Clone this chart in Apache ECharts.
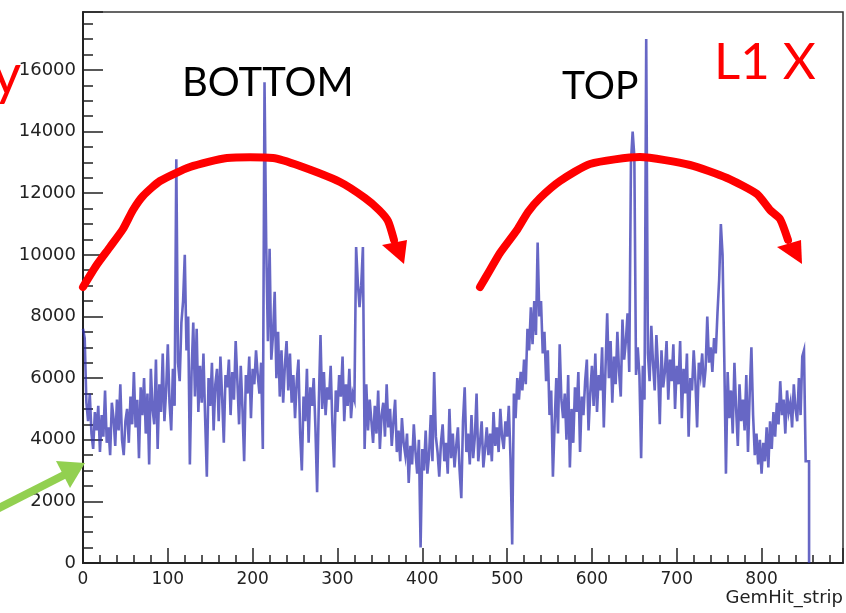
<!DOCTYPE html>
<html><head><meta charset="utf-8">
<script src="https://cdn.jsdelivr.net/npm/echarts@6/dist/echarts.min.js"></script>
<style>html,body{margin:0;padding:0;background:#fff}#c{width:846px;height:613px}</style>
</head><body><div id="c"></div>
<script>
// histogram bin width (strips per bin)
const binWidth = 2;
// counts per bin, strips 0..855
const stripCounts = [
  7600, 7300, 5200, 4600, 5500, 4200, 3700, 4900, 4300, 5100,
  3600, 4800, 4100, 5600, 3900, 4400, 3500, 5200, 4700, 3800,
  5300, 4300, 5800, 4000, 3500, 4600, 5000, 3900, 5400, 4500,
  6200, 4400, 5300, 3400, 5700, 4800, 6000, 4200, 5500, 3200,
  6300, 5000, 4500, 6600, 3700, 5800, 4900, 6800, 4600, 5600,
  7100, 5200, 4300, 6300, 5100, 13100, 6500, 5900, 7800, 8500,
  10000, 6900, 8000, 3200, 6200, 7800, 5400, 7600, 4900, 6400,
  5200, 6800, 4700, 2800, 6000, 5100, 6500, 4300, 5800, 6300,
  4600, 6700, 5400, 3900, 6100, 5700, 6600, 4800, 6200, 5300,
  7200, 5900, 4500, 6400, 5000, 3300, 6100, 5500, 6700, 4700,
  6300, 5800, 6900, 6100, 5500, 6500, 3700, 15600, 10300, 7200,
  10200, 6600, 7400, 8800, 6000, 7500, 5400, 6900, 5200, 6400,
  7200, 5600, 6800, 5200, 6100, 4700, 5900, 6600, 4200, 3000,
  5400, 4600, 6300, 3900, 5700, 5100, 6000, 4400, 2300, 5200,
  7400, 5000, 6200, 4800, 5700, 5300, 6400, 4500, 3100, 5600,
  4900, 6100, 5400, 6700, 4600, 5800, 5100, 6300, 4700, 5500,
  5300, 10250, 9100, 8300, 9000, 10250, 3700, 5800, 4300, 5300,
  4600, 3900, 5100, 4200, 5600, 3700, 4800, 5200, 4100, 5800,
  4400, 5000, 3800, 4600, 5300, 3600, 4300, 3300, 4700, 3900,
  3500, 4200, 2600, 3800, 3200, 4500, 3600, 2900, 4000, 500,
  3700, 3000, 4300, 2900, 3500, 4800, 3300, 6200, 4100, 3600,
  2800, 3900, 4500, 3300, 3900, 2900, 5000, 3400, 4200, 3100,
  3800, 4400, 3000, 2100, 4600, 5700, 3600, 4200, 3200, 4800,
  3400, 4100, 5500, 3300, 3900, 4600, 3100, 3700, 4400, 3500,
  4200, 3300, 4900, 3800, 4400, 3600, 5000, 4100, 3700, 4600,
  4100, 5100, 3400, 600, 5500, 4700, 6000, 5300, 6200, 5600,
  6600, 5800, 7600, 6900, 8300, 7100, 8500, 7400, 10400, 8000,
  8500, 6800, 7500, 5900, 6900, 4800, 5600, 2800, 4500, 6000,
  4200, 7100, 5300, 4700, 5500, 4000, 6100, 3100, 5000, 3900,
  5700, 4900, 6200, 3600, 5400, 4800, 5900, 6600, 4300, 5500,
  6400, 5100, 6800, 4900, 6100, 5600, 7000, 4400, 6300, 8100,
  6000, 7200, 5200, 6700, 5800, 7500, 6200, 5400, 7900, 6600,
  7200, 8100, 6200, 13000, 14000, 13200, 6100, 7000, 6100, 3400,
  6400, 5300, 17000, 6800, 5900, 7700, 6500, 5600, 7400, 6300,
  4500, 6900, 5700, 6200, 7200, 5300, 6600, 5900, 7100, 5000,
  6400, 5800, 7200, 4700, 6300, 5500, 6800, 4100, 6000, 5600,
  6900, 5900, 4400, 6500, 6100, 6800, 5700, 6300, 8000, 6500,
  7000, 6200, 7300, 6800, 8100, 9200, 11000, 10000, 6700, 2900,
  6200, 4700, 5600, 4200, 6500, 5000, 3800, 5800, 4600, 5300,
  4300, 6100, 3600, 5500, 7000, 4800, 3500, 4200, 3200, 4000,
  2900, 3900, 3300, 4400, 3100, 4600, 3700, 4900, 4100, 5200,
  4500, 5900, 4800, 5300, 4200, 5600, 4900, 5200, 4400, 5800,
  5000, 4600, 6000, 4800, 6700, 6900, 3300, 3300
];
const xTickLabels = [0, 100, 200, 300, 400, 500, 600, 700, 800];
const yTickLabels = [0, 2000, 4000, 6000, 8000, 10000, 12000, 14000, 16000];
const xAxisTitle = 'GemHit_strip';
const labelBottom = 'BOTTOM';
const labelTop = 'TOP';
const labelLayer = 'L1 X';
const labelCutY = 'y';

// histogram outline: each bin is a flat step from its low edge to its high edge
const outline = [];
stripCounts.forEach((v, i) => {
  outline.push([i * binWidth, v]);
  outline.push([(i + 1) * binWidth, v]);
});
outline.push([stripCounts.length * binWidth, 0]);

const chart = echarts.init(document.getElementById('c'), null, {renderer: 'canvas'});
const axisFont = 'DejaVu Sans';
const red = '#ff0000';

chart.setOption({
  animation: false,
  backgroundColor: '#ffffff',
  grid: {left: 83, right: 3, top: 12, bottom: 50, show: true, borderColor: '#333', borderWidth: 1.5, containLabel: false},
  xAxis: {
    type: 'value', min: 0, max: 896, interval: 100,
    name: xAxisTitle, nameLocation: 'end', nameGap: 0,
    nameTextStyle: {fontFamily: axisFont, fontSize: 18, color: '#222', align: 'right', verticalAlign: 'top', padding: [26, 0, 0, 0]},
    axisLine: {show: true, onZero: false, lineStyle: {color: '#222', width: 2}},
    axisTick: {show: true, inside: true, length: 15, lineStyle: {color: '#222', width: 1.5}},
    minorTick: {show: true, splitNumber: 5, length: 8, lineStyle: {color: '#222', width: 1.5}},
    splitLine: {show: false},
    axisLabel: {fontFamily: axisFont, fontSize: 17, color: '#222', margin: 8,
      formatter: v => xTickLabels.includes(v) ? String(v) : ''}
  },
  yAxis: {
    type: 'value', min: 0, max: 17880, interval: 2000,
    axisLine: {show: true, onZero: false, lineStyle: {color: '#222', width: 2}},
    axisTick: {show: true, inside: true, length: 20, lineStyle: {color: '#222', width: 1.5}},
    minorTick: {show: true, splitNumber: 4, length: 10, lineStyle: {color: '#222', width: 1.5}},
    splitLine: {show: false},
    axisLabel: {fontFamily: axisFont, fontSize: 18, color: '#222', margin: 7,
      formatter: v => yTickLabels.includes(v) ? String(v) : ''}
  },
  series: [{
    type: 'line', data: outline, symbol: 'none', showSymbol: false,
    lineStyle: {color: 'rgba(45,45,175,0.72)', width: 2.6, join: 'miter'}, z: 2
  }],
  graphic: [
    {type: 'polyline', z: 10, shape: {smooth: 0.2, points: [[83,287],[96,266],[110,247],[123,229],[133,210],[143,196],[160,181],[190,167],[227,158],[273,158],[300,166],[340,182],[365,198],[379,210],[388,221],[394,240]]},
      style: {stroke: red, lineWidth: 8, fill: null, lineCap: 'round', lineJoin: 'round'}},
    {type: 'polygon', z: 10, shape: {points: [[382,245],[407,240],[404,264]]}, style: {fill: red}},
    {type: 'polyline', z: 10, shape: {smooth: 0.2, points: [[480,287],[490,270],[500,253],[517,230],[528,212],[540,198],[560,181],[590,164],[640,157],[690,165],[727,178],[757,194],[770,210],[780,219],[788,240]]},
      style: {stroke: red, lineWidth: 8, fill: null, lineCap: 'round', lineJoin: 'round'}},
    {type: 'polygon', z: 10, shape: {points: [[777,247],[801,240],[802,264]]}, style: {fill: red}},
    {type: 'line', z: 10, shape: {x1: -5, y1: 510, x2: 68, y2: 473}, style: {stroke: '#92d050', lineWidth: 8}},
    {type: 'polygon', z: 10, shape: {points: [[56,461],[70,488],[85,463]]}, style: {fill: '#92d050'}},
    {type: 'text', z: 11, x: 182, y: 83, style: {text: labelBottom, fontFamily: 'Lato', fontSize: 40, fill: '#000', align: 'left', verticalAlign: 'middle'}},
    {type: 'text', z: 11, x: 562, y: 86, style: {text: labelTop, fontFamily: 'Lato', fontSize: 39, fill: '#000', align: 'left', verticalAlign: 'middle'}},
    {type: 'text', z: 11, x: 714, y: 63, style: {text: labelLayer, fontFamily: 'Lato', fontSize: 51, fill: red, align: 'left', verticalAlign: 'middle'}},
    {type: 'text', z: 11, x: 21, y: 76, style: {text: labelCutY, fontFamily: 'Lato', fontSize: 56, fill: red, align: 'right', verticalAlign: 'middle'}}
  ]
});
</script>
</body></html>
